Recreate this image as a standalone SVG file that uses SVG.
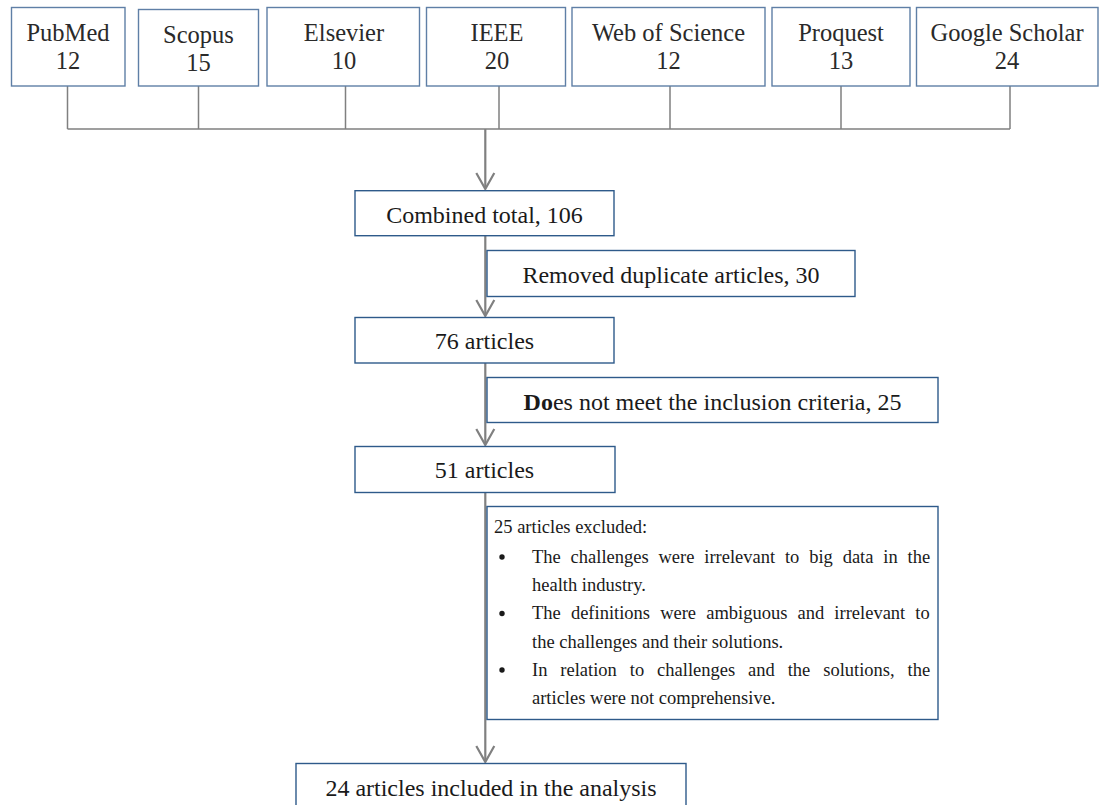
<svg xmlns="http://www.w3.org/2000/svg" width="1099" height="805" viewBox="0 0 1099 805">
<defs>
<style>
.src{fill:#fff;stroke:#5f7fa6;stroke-width:1.4}
.box{fill:#fff;stroke:#2e5a8a;stroke-width:1.4}
.t{font-family:"Liberation Serif","Times New Roman",serif;fill:#1a1a1a;text-anchor:middle}
.ts{font-size:24.5px;fill:#2a2a2a}
.tm{font-size:24px}
.tb{font-family:"Liberation Serif","Times New Roman",serif;fill:#1a1a1a;font-size:18.5px}
.thin{fill:none;stroke:#808080;stroke-width:1.5}
.flow{fill:none;stroke:#808080;stroke-width:2.2}
.head{fill:none;stroke:#808080;stroke-width:2.2;stroke-linejoin:miter}
</style>
</defs>

<g id="connectors">
<path class="thin" d="M67.5,86 V129 M198.5,86 V129 M345.5,86 V129 M499,86 V129 M670,86 V129 M841,86 V129 M1010,86 V129 M67.5,129 H1010"/>
<path class="flow" d="M485.3,129 V188 M485.3,236 V315 M485.3,363 V444 M485.3,492 V761"/>
<path class="head" d="M476.3,173 L485.3,189 L494.3,173"/>
<path class="head" d="M476.3,300 L485.3,316 L494.3,300"/>
<path class="head" d="M476.3,429 L485.3,445 L494.3,429"/>
<path class="head" d="M476.3,746 L485.3,762 L494.3,746"/>
</g>

<g id="pubmed">
<rect class="src" x="11.5" y="7.5" width="113.5" height="78.5"/>
<text class="t ts" x="68" y="41">PubMed</text>
<text class="t ts" x="68" y="69">12</text>
</g>
<g id="scopus">
<rect class="src" x="138.5" y="9.5" width="120" height="76.5"/>
<text class="t ts" x="198.5" y="43">Scopus</text>
<text class="t ts" x="198.5" y="71">15</text>
</g>
<g id="elsevier">
<rect class="src" x="267" y="7.5" width="152.5" height="78.5"/>
<text class="t ts" x="344" y="41">Elsevier</text>
<text class="t ts" x="344" y="69">10</text>
</g>
<g id="ieee">
<rect class="src" x="426.5" y="7.5" width="139" height="78.5"/>
<text class="t ts" x="497" y="41">IEEE</text>
<text class="t ts" x="497" y="69">20</text>
</g>
<g id="wos">
<rect class="src" x="572" y="7.5" width="193" height="78.5"/>
<text class="t ts" x="668.5" y="41">Web of Science</text>
<text class="t ts" x="668.5" y="69">12</text>
</g>
<g id="proquest">
<rect class="src" x="772" y="7.5" width="138" height="78.5"/>
<text class="t ts" x="841" y="41">Proquest</text>
<text class="t ts" x="841" y="69">13</text>
</g>
<g id="scholar">
<rect class="src" x="916.5" y="7.5" width="181.5" height="78.5"/>
<text class="t ts" x="1007" y="41">Google Scholar</text>
<text class="t ts" x="1007" y="69">24</text>
</g>

<g id="combined">
<rect class="box" x="355" y="190.7" width="259" height="45"/>
<text class="t tm" x="484.5" y="223">Combined total, 106</text>
</g>
<g id="duplicates">
<rect class="box" x="487" y="250.5" width="368" height="46"/>
<text class="t tm" x="671" y="283">Removed duplicate articles, 30</text>
</g>
<g id="a76">
<rect class="box" x="355" y="317.5" width="259" height="45.5"/>
<text class="t tm" x="484.5" y="349">76 articles</text>
</g>
<g id="criteria">
<rect class="box" x="487" y="377.5" width="451" height="45"/>
<text class="t tm" x="712.5" y="410"><tspan font-weight="bold">Do</tspan>es not meet the inclusion criteria, 25</text>
</g>
<g id="a51">
<rect class="box" x="355" y="446.5" width="260" height="46"/>
<text class="t tm" x="484.5" y="478">51 articles</text>
</g>
<g id="excluded">
<rect class="box" x="487" y="506.5" width="451" height="213"/>
<text class="tb" x="494" y="533">25 articles excluded:</text>
<circle cx="502" cy="557" r="2.7" fill="#1a1a1a"/>
<circle cx="502" cy="613.5" r="2.7" fill="#1a1a1a"/>
<circle cx="502" cy="670" r="2.7" fill="#1a1a1a"/>
<text class="tb" x="532" y="562.5" word-spacing="5.2">The challenges were irrelevant to big data in the</text>
<text class="tb" x="532" y="591">health industry.</text>
<text class="tb" x="532" y="619" word-spacing="5.5">The definitions were ambiguous and irrelevant to</text>
<text class="tb" x="532" y="647.5">the challenges and their solutions.</text>
<text class="tb" x="532" y="676" word-spacing="8.3">In relation to challenges and the solutions, the</text>
<text class="tb" x="532" y="704">articles were not comprehensive.</text>
</g>
<g id="included">
<rect class="box" x="296" y="763.5" width="390" height="45"/>
<text class="t tm" x="491" y="796">24 articles included in the analysis</text>
</g>
</svg>
